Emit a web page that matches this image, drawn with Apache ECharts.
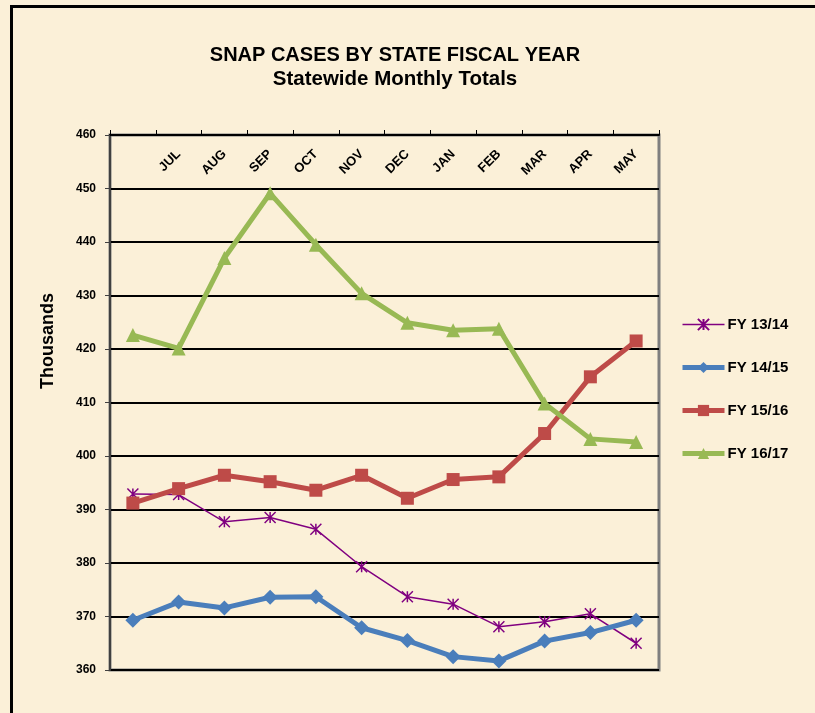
<!DOCTYPE html>
<html>
<head>
<meta charset="utf-8">
<script src="https://cdn.jsdelivr.net/npm/echarts@6/dist/echarts.min.js"></script>
<style>
  html, body { margin: 0; padding: 0; background: #fbf0d8; }
  #main { width: 815px; height: 713px; }
</style>
</head>
<body>
<div id="main"></div>
<script>
var chartDom = document.getElementById('main');
var myChart = echarts.init(chartDom);
var option;

// first month has no label in the original chart
var months = ['', 'JUL', 'AUG', 'SEP', 'OCT', 'NOV', 'DEC', 'JAN', 'FEB', 'MAR', 'APR', 'MAY'];
var fy1314 = [392.9, 392.8, 387.7, 388.5, 386.3, 379.3, 373.7, 372.3, 368.1, 369.0, 370.5, 365.0];
var fy1415 = [369.3, 372.7, 371.6, 373.6, 373.7, 367.9, 365.5, 362.5, 361.7, 365.4, 367.0, 369.3];
var fy1516 = [391.2, 393.9, 396.4, 395.2, 393.6, 396.4, 392.1, 395.6, 396.1, 404.2, 414.8, 421.5];
var fy1617 = [422.6, 420.1, 437.0, 449.1, 439.5, 430.4, 424.9, 423.5, 423.8, 409.8, 403.2, 402.6];

var font = '"Liberation Sans", Arial, sans-serif';
var star = 'path://M0,0L10,10M10,0L0,10M5,0L5,10';

option = {
  backgroundColor: '#fbf0d8',
  textStyle: { fontFamily: font },
  title: {
    text: 'SNAP CASES BY STATE FISCAL YEAR',
    subtext: 'Statewide Monthly Totals',
    left: 390,
    top: 40,
    textAlign: 'center',
    itemGap: 4,
    textStyle: { fontFamily: font, fontSize: 20, fontWeight: 'bold', color: '#000' },
    subtextStyle: { fontFamily: font, fontSize: 20.5, fontWeight: 'bold', color: '#000' }
  },
  graphic: [
    { type: 'rect', shape: { x: 10, y: 5, width: 805, height: 3 }, style: { fill: '#000' } },
    { type: 'rect', shape: { x: 10, y: 5, width: 3, height: 708 }, style: { fill: '#000' } },
    {
      type: 'text', x: 48, y: 341, rotation: Math.PI / 2,
      style: {
        text: 'Thousands', fill: '#000', align: 'center', verticalAlign: 'middle',
        font: 'bold 18px "Liberation Sans", Arial, sans-serif'
      }
    }
  ],
  legend: {
    orient: 'vertical',
    left: 675,
    top: 312,
    itemWidth: 42,
    itemHeight: 14,
    itemGap: 28,
    lineStyle: { width: 'inherit' },
    textStyle: { fontFamily: font, fontSize: 15, fontWeight: 'bold', color: '#000', padding: [0, 0, 0, -2] },
    data: ['FY 13/14', 'FY 14/15', 'FY 15/16', 'FY 16/17']
  },
  grid: {
    left: 110, right: 156, top: 135, bottom: 43,
    show: true,
    backgroundColor: 'transparent',
    borderColor: '#7f7f7f',
    borderWidth: 3
  },
  xAxis: {
    type: 'category',
    position: 'top',
    data: months,
    boundaryGap: true,
    axisLine: { lineStyle: { color: '#000', width: 2 } },
    axisTick: { show: true, length: 5, lineStyle: { color: '#000', width: 1 } },
    axisLabel: {
      inside: true, rotate: -45, interval: 0, margin: 17,
      fontFamily: font, fontSize: 13, fontWeight: 'bold', color: '#000'
    },
    splitLine: { show: false }
  },
  yAxis: {
    type: 'value',
    min: 360, max: 460, interval: 10,
    axisLine: { show: true, lineStyle: { color: '#404040', width: 2 } },
    axisTick: { show: true, length: 5, lineStyle: { color: '#404040' } },
    axisLabel: { margin: 14, fontFamily: font, fontSize: 12, fontWeight: 'bold', color: '#000' },
    splitLine: { lineStyle: { color: '#000', width: 2 } }
  },
  series: [
    {
      name: 'FY 13/14', type: 'line', data: fy1314,
      symbol: star, symbolSize: 11,
      lineStyle: { color: '#800080', width: 1.5 },
      itemStyle: { color: '#800080', borderColor: '#800080', borderWidth: 1.5 }
    },
    {
      name: 'FY 14/15', type: 'line', data: fy1415,
      symbol: 'diamond', symbolSize: 15,
      lineStyle: { color: '#4a7ebb', width: 5 },
      itemStyle: { color: '#4a7ebb' }
    },
    {
      name: 'FY 15/16', type: 'line', data: fy1516,
      symbol: 'rect', symbolSize: 13,
      lineStyle: { color: '#be4b48', width: 5 },
      itemStyle: { color: '#be4b48' }
    },
    {
      name: 'FY 16/17', type: 'line', data: fy1617,
      symbol: 'triangle', symbolSize: 14,
      lineStyle: { color: '#98b954', width: 5 },
      itemStyle: { color: '#98b954' }
    }
  ]
};

option && myChart.setOption(option);
</script>
</body>
</html>
